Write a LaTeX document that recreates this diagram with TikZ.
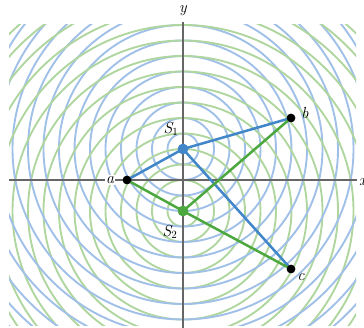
\documentclass[tikz,border=0pt]{standalone}
\begin{document}
\begin{tikzpicture}[x=1pt,y=-1pt,
  axis/.style={draw=black!60, line width=1.6pt},
  pathS1/.style={draw={rgb,255:red,64;green,134;blue,200}, line width=2.5pt},
  pathS2/.style={draw={rgb,255:red,76;green,168;blue,62}, line width=2.5pt},
  pt/.style={circle, fill=black, inner sep=0pt, minimum size=8.5pt},
  srcA/.style={circle, fill={rgb,255:red,64;green,134;blue,200}, inner sep=0pt, minimum size=10.5pt},
  srcB/.style={circle, fill={rgb,255:red,76;green,168;blue,62}, inner sep=0pt, minimum size=10.5pt},
  lbl/.style={font=\fontsize{16}{18}\selectfont\itshape}]
\useasboundingbox (0,0) rectangle (364,328);
\definecolor{waveblue}{RGB}{160,192,232}
\definecolor{wavegreen}{RGB}{176,214,160}
\coordinate (S1c) at (183,149);
\coordinate (S2c) at (183,211);
\begin{scope}
  \clip (9,25) rectangle (356,326);
  \foreach \k in {1,...,18}{
    \draw[draw=wavegreen, line width=1.9pt] (S2c) circle[radius=15.5pt*\k];
    \draw[draw=waveblue, line width=1.9pt] (S1c) circle[radius=15.5pt*\k];
  }
\end{scope}
% axes
\coordinate (xl) at (9,180);
\coordinate (xr) at (357,180);
\coordinate (yt) at (183,22);
\coordinate (yb) at (183,328);
\draw[axis] (xl) -- (xr);
\draw[axis] (yt) -- (yb);
\node[lbl] (ylab) at (183,11) {y};
\node[lbl, anchor=west, inner sep=0pt] (xlab) at (359,182) {x};
% points
\node[srcA] (S1) at (S1c) {};
\node[srcB] (S2) at (S2c) {};
\node[pt] (a) at (127,180) {};
\node[pt] (b) at (291,118) {};
\node[pt] (c) at (291,269) {};
% paths
\draw[pathS1] (S1.center) -- (a.center);
\draw[pathS1] (S1.center) -- (b.center);
\draw[pathS1] (S1.center) -- (c.center);
\draw[pathS2] (S2.center) -- (a.center);
\draw[pathS2] (S2.center) -- (b.center);
\draw[pathS2] (S2.center) -- (c.center);
% redraw dots on top
\node[srcA] at (S1c) {};
\node[srcB] at (S2c) {};
\node[pt] at (127,180) {};
\node[pt] at (291,118) {};
\node[pt] at (291,269) {};
% labels
\node[lbl, fill=white, inner sep=1pt] (alab) at (110,180) {a};
\node[lbl] (blab) at (305,113) {b};
\node[lbl] (clab) at (301,277) {c};
\node[lbl] (s1lab) at (171,129) {S$_1$};
\node[lbl] (s2lab) at (170,232) {S$_2$};
\end{tikzpicture}
\end{document}
